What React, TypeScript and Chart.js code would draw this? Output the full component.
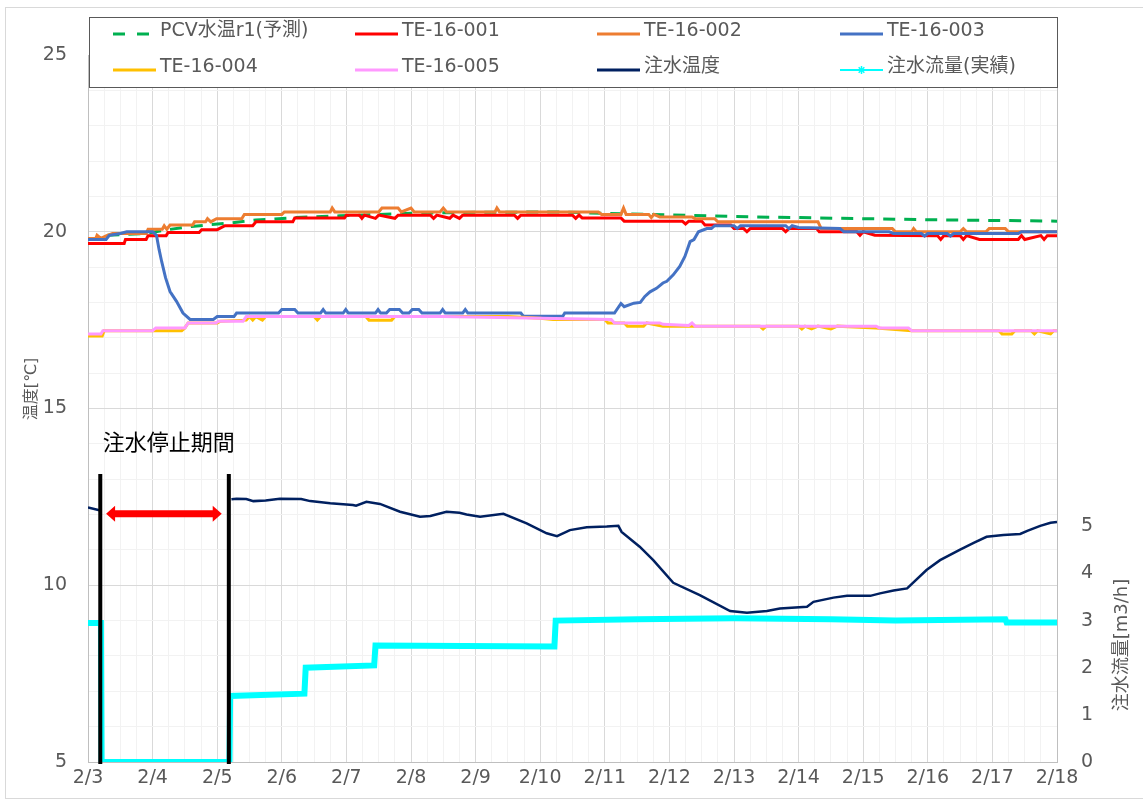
import React, { useEffect, useRef } from 'react';
import { Chart, registerables } from 'chart.js';
Chart.register(...registerables);

// ---------- data (x = days since 2/3 00:00) ----------
const xLabels = ['2/3', '2/4', '2/5', '2/6', '2/7', '2/8', '2/9', '2/10', '2/11', '2/12', '2/13', '2/14', '2/15', '2/16', '2/17', '2/18'];

const seriesNames = ['PCV水温r1(予測)', 'TE-16-001', 'TE-16-002', 'TE-16-003', 'TE-16-004', 'TE-16-005', '注水温度', '注水流量(実績)'];
const seriesColors = ['#00B050', '#FF0000', '#ED7D31', '#4472C4', '#FFC000', '#FF99FF', '#002060', '#00FFFF'];

const pcvPredict: [number, number][] = [
  [0.3, 19.9], [0.9, 19.95], [1.2, 20.05], [1.6, 20.15], [2.2, 20.25], [2.6, 20.33], [3.2, 20.4], [3.9, 20.45],
  [5.0, 20.52], [6.0, 20.55], [7.3, 20.56], [8.0, 20.52], [9.0, 20.48], [10.0, 20.43], [11.0, 20.4], [12.0, 20.37],
  [13.0, 20.34], [14.0, 20.32], [15, 20.3],
];

const te001: [number, number][] = [
  [0, 19.67], [0.56, 19.67], [0.58, 19.78], [0.9, 19.78], [0.93, 19.89], [1.21, 19.89], [1.24, 19.98], [1.72, 19.98],
  [1.76, 20.06], [2.0, 20.06], [2.12, 20.17], [2.55, 20.17], [2.6, 20.28], [3.17, 20.28], [3.2, 20.39], [3.97, 20.39],
  [4.0, 20.47], [4.2, 20.47], [4.24, 20.38], [4.28, 20.47], [4.45, 20.38], [4.5, 20.47], [4.75, 20.38], [4.8, 20.47],
  [5.3, 20.47], [5.35, 20.38], [5.4, 20.47], [5.6, 20.38], [5.65, 20.47], [5.75, 20.38], [5.8, 20.47], [6.6, 20.47],
  [6.65, 20.38], [6.7, 20.47], [7.5, 20.47], [7.55, 20.38], [7.6, 20.47], [7.65, 20.39], [8.25, 20.39], [8.3, 20.3],
  [9.2, 20.3], [9.25, 20.22], [9.3, 20.3], [9.5, 20.3], [9.55, 20.19], [9.95, 20.19], [10.0, 20.09], [10.15, 20.09],
  [10.2, 20.0], [10.25, 20.09], [10.75, 20.09], [10.8, 20.0], [10.85, 20.09], [11.28, 20.09], [11.32, 20.0], [11.9, 20.0],
  [11.95, 19.9], [12.0, 20.0], [12.18, 19.9], [13.15, 19.89], [13.2, 19.78], [13.25, 19.89], [13.5, 19.89], [13.55, 19.78],
  [13.6, 19.89], [13.8, 19.78], [14.4, 19.78], [14.45, 19.89], [14.5, 19.78], [14.75, 19.89], [14.8, 19.78], [14.85, 19.89],
  [15, 19.89],
];

const te002: [number, number][] = [
  [0, 19.81], [0.12, 19.81], [0.14, 19.9], [0.2, 19.81], [0.28, 19.88], [0.38, 19.95], [0.9, 19.95], [0.93, 20.07],
  [1.15, 20.07], [1.18, 20.17], [1.22, 20.07], [1.27, 20.19], [1.62, 20.19], [1.65, 20.28], [1.82, 20.28], [1.85, 20.37],
  [1.9, 20.28], [1.99, 20.37], [2.38, 20.37], [2.42, 20.49], [3.0, 20.49], [3.04, 20.56], [3.75, 20.56], [3.78, 20.67],
  [3.82, 20.56], [4.5, 20.56], [4.55, 20.67], [4.8, 20.67], [4.85, 20.56], [5.0, 20.67], [5.05, 20.56], [5.45, 20.56],
  [5.5, 20.67], [5.55, 20.56], [6.3, 20.56], [6.33, 20.67], [6.37, 20.56], [7.9, 20.56], [7.95, 20.49], [8.25, 20.49],
  [8.29, 20.67], [8.33, 20.49], [8.68, 20.49], [8.72, 20.4], [8.76, 20.49], [8.85, 20.42], [9.35, 20.42], [9.4, 20.37],
  [9.7, 20.37], [9.75, 20.28], [11.3, 20.28], [11.35, 20.09], [12.45, 20.09], [12.5, 20.0], [12.75, 20.0], [12.78, 20.09],
  [12.82, 20.0], [13.5, 20.0], [13.55, 20.09], [13.6, 20.0], [13.9, 20.0], [13.95, 20.09], [14.2, 20.09], [14.25, 20.0],
  [15, 20.0],
];

const te003: [number, number][] = [
  [0, 19.78], [0.28, 19.78], [0.33, 19.9], [0.5, 19.95], [0.6, 20.0], [1.0, 20.0], [1.06, 19.9], [1.1, 19.5],
  [1.14, 19.16], [1.2, 18.7], [1.27, 18.31], [1.37, 18.03], [1.47, 17.7], [1.58, 17.52], [1.94, 17.52], [2.0, 17.6],
  [2.26, 17.6], [2.3, 17.7], [2.95, 17.7], [3.0, 17.8], [3.2, 17.8], [3.25, 17.7], [3.6, 17.7], [3.64, 17.8],
  [3.68, 17.7], [3.95, 17.7], [3.99, 17.8], [4.03, 17.7], [4.45, 17.7], [4.49, 17.8], [4.53, 17.7], [4.62, 17.7],
  [4.67, 17.8], [4.82, 17.8], [4.87, 17.7], [4.97, 17.7], [5.02, 17.8], [5.12, 17.8], [5.17, 17.7], [5.45, 17.7],
  [5.49, 17.8], [5.53, 17.7], [5.8, 17.7], [5.84, 17.8], [5.88, 17.7], [6.7, 17.7], [6.74, 17.61], [7.35, 17.61],
  [7.38, 17.7], [8.15, 17.7], [8.25, 17.97], [8.3, 17.88], [8.45, 17.98], [8.55, 18.0], [8.62, 18.17], [8.7, 18.3],
  [8.8, 18.4], [8.9, 18.55], [8.96, 18.6], [9.06, 18.78], [9.16, 19.02], [9.24, 19.3], [9.32, 19.72], [9.38, 19.78],
  [9.45, 20.0], [9.58, 20.09], [9.65, 20.09], [9.7, 20.17], [10.0, 20.17], [10.05, 20.09], [10.1, 20.17], [10.8, 20.17],
  [10.85, 20.09], [10.9, 20.17], [11.0, 20.12], [11.64, 20.09], [11.7, 20.0], [12.4, 20.0], [12.47, 19.95], [12.9, 19.95],
  [12.95, 19.88], [13.0, 19.95], [13.3, 19.95], [13.35, 19.88], [13.4, 19.95], [14.4, 19.95], [14.45, 20.0], [15, 20.0],
];

const te004: [number, number][] = [
  [0, 17.05], [0.22, 17.05], [0.25, 17.2], [1.45, 17.2], [1.5, 17.28], [1.55, 17.42], [2.0, 17.42], [2.05, 17.47],
  [2.45, 17.5], [2.5, 17.6], [2.55, 17.5], [2.6, 17.6], [2.7, 17.5], [2.75, 17.6], [3.5, 17.6], [3.55, 17.5],
  [3.6, 17.6], [4.3, 17.6], [4.35, 17.5], [4.7, 17.5], [4.75, 17.6], [6.5, 17.6], [7.0, 17.55], [7.2, 17.52],
  [8.0, 17.52], [8.05, 17.42], [8.3, 17.42], [8.35, 17.33], [8.6, 17.33], [8.65, 17.42], [8.9, 17.33], [10.4, 17.33],
  [10.45, 17.25], [10.5, 17.33], [11.0, 17.33], [11.05, 17.25], [11.1, 17.33], [11.2, 17.25], [11.3, 17.33], [11.5, 17.25],
  [11.6, 17.33], [12.2, 17.28], [12.75, 17.2], [14.1, 17.2], [14.15, 17.11], [14.3, 17.11], [14.35, 17.2], [14.6, 17.2],
  [14.65, 17.11], [14.7, 17.2], [14.9, 17.11], [14.95, 17.2], [15, 17.2],
];

const te005: [number, number][] = [
  [0, 17.11], [0.2, 17.11], [0.23, 17.2], [1.0, 17.2], [1.05, 17.28], [1.5, 17.28], [1.55, 17.42], [1.98, 17.42],
  [2.02, 17.47], [2.4, 17.47], [2.45, 17.6], [5.5, 17.6], [7.0, 17.55], [8.1, 17.52], [8.15, 17.42], [8.85, 17.42],
  [8.9, 17.38], [9.3, 17.35], [9.35, 17.42], [9.4, 17.33], [12.2, 17.33], [12.25, 17.28], [12.7, 17.28], [12.75, 17.2],
  [15, 17.2],
];

const injTemp: [number, number | null][] = [
  [0, 12.2], [0.16, 12.13], [0.19, 12.12], [1.2, null], [2.22, 12.43], [2.3, 12.45], [2.45, 12.44], [2.56, 12.38],
  [2.75, 12.4], [2.97, 12.45], [3.3, 12.44], [3.44, 12.38], [3.75, 12.32], [4.1, 12.27], [4.15, 12.25], [4.31, 12.36],
  [4.52, 12.3], [4.83, 12.08], [5.14, 11.94], [5.3, 11.96], [5.55, 12.08], [5.75, 12.05], [5.86, 12.0], [6.07, 11.94],
  [6.43, 12.02], [6.79, 11.75], [7.1, 11.47], [7.26, 11.39], [7.46, 11.56], [7.72, 11.64], [8.03, 11.66], [8.21, 11.68],
  [8.26, 11.51], [8.54, 11.09], [8.75, 10.71], [9.06, 10.07], [9.47, 9.72], [9.94, 9.27], [10.2, 9.22], [10.51, 9.27],
  [10.71, 9.34], [11.13, 9.39], [11.23, 9.53], [11.54, 9.65], [11.75, 9.7], [12.11, 9.7], [12.26, 9.77], [12.47, 9.85],
  [12.68, 9.91], [12.98, 10.43], [13.19, 10.71], [13.5, 11.01], [13.71, 11.2], [13.91, 11.37], [14.17, 11.42], [14.43, 11.45],
  [14.54, 11.54], [14.74, 11.68], [14.9, 11.77], [15, 11.79],
];

const injFlow: [number, number][] = [
  [0, 2.95], [0.2, 2.95], [0.21, 0], [2.19, 0], [2.2, 1.4], [3.35, 1.45], [3.37, 2.0], [4.43, 2.05],
  [4.45, 2.47], [7.22, 2.45], [7.24, 3.0], [8.5, 3.03], [10.0, 3.05], [11.5, 3.03], [12.5, 3.0], [14.2, 3.03],
  [14.22, 2.96], [15, 2.96],
];

// annotation (in data units)
const stopPeriodDays = [0.19, 2.18];
const stopLineTopTemp = 13.15;
const arrowTemp = 12.02;
const arrowDays = [0.28, 2.07];
const stopText = '注水停止期間';
const stopTextAt = [0.23, 14.05];

const leftTitle = '温度[℃]';
const rightTitle = '注水流量[m3/h]';

const FONT = '"DejaVu Sans", "Noto Sans CJK JP", sans-serif';
const CJK = '"Noto Sans CJK JP", "DejaVu Sans", sans-serif';
const TXT = '#595959';

const toXY = (arr: [number, number | null][]) => arr.map(([x, y]) => ({ x, y }));

const overlayPlugin = {
  id: 'overlay',
  afterDatasetsDraw(chart: any) {
    const { ctx } = chart;
    const x = chart.scales.x, y = chart.scales.y;
    ctx.save();
    ctx.strokeStyle = '#000';
    ctx.lineWidth = 4;
    stopPeriodDays.forEach((d) => {
      const px = x.getPixelForValue(d);
      ctx.beginPath();
      ctx.moveTo(px, y.getPixelForValue(stopLineTopTemp));
      ctx.lineTo(px, y.getPixelForValue(5) + 2);
      ctx.stroke();
    });
    const ay = y.getPixelForValue(arrowTemp);
    const a1 = x.getPixelForValue(arrowDays[0]);
    const a2 = x.getPixelForValue(arrowDays[1]);
    const head = 9, hh = 8, sh = 3.5;
    ctx.fillStyle = '#FF0000';
    ctx.beginPath();
    ctx.moveTo(a1, ay);
    ctx.lineTo(a1 + head, ay - hh);
    ctx.lineTo(a1 + head, ay - sh);
    ctx.lineTo(a2 - head, ay - sh);
    ctx.lineTo(a2 - head, ay - hh);
    ctx.lineTo(a2, ay);
    ctx.lineTo(a2 - head, ay + hh);
    ctx.lineTo(a2 - head, ay + sh);
    ctx.lineTo(a1 + head, ay + sh);
    ctx.lineTo(a1 + head, ay + hh);
    ctx.closePath();
    ctx.fill();
    ctx.fillStyle = '#000';
    ctx.font = `22px ${CJK}`;
    ctx.textBaseline = 'middle';
    ctx.textAlign = 'left';
    ctx.fillText(stopText, x.getPixelForValue(stopTextAt[0]), y.getPixelForValue(stopTextAt[1]));
    ctx.restore();
  },
  afterDraw(chart: any) {
    const { ctx } = chart;
    ctx.save();
    // outer frame
    ctx.strokeStyle = '#d9d9d9';
    ctx.lineWidth = 1;
    ctx.strokeRect(5.5, 7.5, chart.width, chart.height - 12);
    // axis titles
    ctx.fillStyle = TXT;
    ctx.textAlign = 'center';
    ctx.textBaseline = 'middle';
    ctx.save();
    ctx.translate(32, 389);
    ctx.rotate(-Math.PI / 2);
    ctx.font = `16px ${FONT}`;
    ctx.fillText(leftTitle, 0, 0);
    ctx.restore();
    ctx.save();
    ctx.translate(1122, 645);
    ctx.rotate(-Math.PI / 2);
    ctx.font = `18px ${FONT}`;
    ctx.fillText(rightTitle, 0, 0);
    ctx.restore();
    // legend box
    const bx = 89, by = 17, bw = 968, bh = 70;
    ctx.fillStyle = '#fff';
    ctx.fillRect(bx, by, bw, bh);
    ctx.strokeStyle = '#595959';
    ctx.lineWidth = 1;
    ctx.strokeRect(bx + 0.5, by + 0.5, bw, bh);
    const cols = [113, 355, 597, 840];
    const lineRows = [34, 70];
    const textRows = [31.5, 67.5];
    const lineLen = 43;
    ctx.font = `19px ${FONT}`;
    ctx.textAlign = 'left';
    ctx.textBaseline = 'middle';
    chart.data.datasets.forEach((ds: any, i: number) => {
      const cx = cols[i % 4];
      const r = Math.floor(i / 4);
      const ly = lineRows[r];
      ctx.save();
      ctx.strokeStyle = ds.borderColor;
      ctx.lineWidth = i === 7 ? 2 : 3;
      ctx.setLineDash(i === 0 ? [12, 12] : []);
      ctx.beginPath();
      ctx.moveTo(cx, ly);
      ctx.lineTo(cx + (i === 0 ? 36 : lineLen), ly);
      ctx.stroke();
      ctx.restore();
      if (i === 7) {
        ctx.save();
        ctx.strokeStyle = ds.borderColor;
        ctx.lineWidth = 1.5;
        const mx = cx + lineLen / 2, rr = 4;
        for (let k = 0; k < 4; k++) {
          const a = (k * Math.PI) / 4;
          ctx.beginPath();
          ctx.moveTo(mx - rr * Math.cos(a), ly - rr * Math.sin(a));
          ctx.lineTo(mx + rr * Math.cos(a), ly + rr * Math.sin(a));
          ctx.stroke();
        }
        ctx.restore();
      }
      ctx.fillStyle = TXT;
      ctx.fillText(ds.label, cx + lineLen + 4, textRows[r]);
    });
    ctx.restore();
  },
};

export default function App() {
  const ref = useRef<HTMLCanvasElement>(null);
  useEffect(() => {
    if (!ref.current) return;
    Chart.defaults.font.family = FONT;
    const mk = (i: number, data: any[], extra: any = {}) => ({
      label: seriesNames[i],
      data,
      borderColor: seriesColors[i],
      backgroundColor: seriesColors[i],
      borderWidth: 3,
      pointRadius: 0,
      fill: false,
      tension: 0,
      spanGaps: false,
      order: 20 - i,
      yAxisID: 'y',
      ...extra,
    });
    const chart = new Chart(ref.current, {
      type: 'line',
      data: {
        datasets: [
          mk(0, toXY(pcvPredict), { borderDash: [12, 9] }),
          mk(1, toXY(te001)),
          mk(2, toXY(te002)),
          mk(3, toXY(te003)),
          mk(4, toXY(te004)),
          mk(5, toXY(te005)),
          mk(6, toXY(injTemp), { borderWidth: 2.5 }),
          mk(7, toXY(injFlow), { borderWidth: 6, yAxisID: 'y2' }),
        ],
      },
      options: {
        responsive: false,
        animation: false,
        layout: { padding: { top: 55, left: 0, right: 0, bottom: 0 } },
        plugins: { legend: { display: false }, tooltip: { enabled: false }, title: { display: false } },
        scales: {
          x: {
            type: 'linear',
            min: 0,
            max: 15,
            ticks: {
              stepSize: 0.25,
              autoSkip: false,
              maxRotation: 0,
              padding: 5,
              color: TXT,
              font: { size: 19, family: FONT },
              callback: (v: any) => (Number.isInteger(v) ? xLabels[v] : ''),
            },
            grid: {
              drawTicks: false,
              color: (c: any) => (Number.isInteger(c.tick?.value) ? '#d9d9d9' : '#f2f2f2'),
            },
            border: { color: '#bfbfbf' },
            afterFit: (s: any) => { s.height = 41; },
          },
          y: {
            type: 'linear',
            position: 'left',
            min: 5,
            max: 25,
            ticks: {
              stepSize: 1,
              padding: 21,
              color: TXT,
              font: { size: 19, family: FONT },
              callback: (v: any) => (v % 5 === 0 ? String(v) : ''),
            },
            grid: {
              drawTicks: false,
              color: (c: any) => (c.tick?.value % 5 === 0 ? '#d9d9d9' : '#f2f2f2'),
            },
            border: { color: '#bfbfbf' },
            afterFit: (s: any) => { s.width = 88; },
          },
          y2: {
            type: 'linear',
            position: 'right',
            min: 0,
            max: 15,
            ticks: {
              stepSize: 1,
              padding: 24,
              color: TXT,
              font: { size: 19, family: FONT },
              callback: (v: any) => (v <= 5 ? String(v) : ''),
            },
            grid: { drawOnChartArea: false, drawTicks: false },
            border: { color: '#bfbfbf' },
            afterFit: (s: any) => { s.width = 86; },
          },
        },
      },
      plugins: [overlayPlugin],
    } as any);
    return () => chart.destroy();
  }, []);
  return (
    <div style={{ position: 'absolute', left: 0, top: 0, width: 1143, height: 803, background: '#fff' }}>
      <canvas ref={ref} width={1143} height={803} style={{ display: 'block' }} />
    </div>
  );
}
